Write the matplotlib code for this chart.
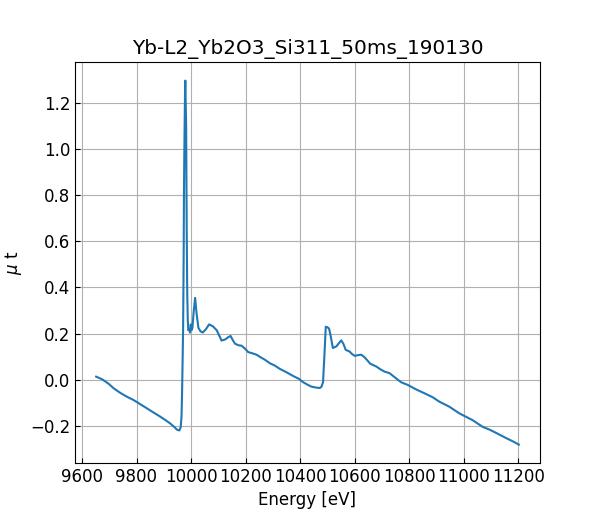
import matplotlib
matplotlib.use("Agg")
import matplotlib.pyplot as plt

# energy [eV] and absorption (mu t)
energy = [
    9652, 9675, 9698, 9716, 9735, 9753, 9770, 9789, 9812, 9838,
    9862, 9887, 9905, 9923, 9938, 9948, 9957, 9962, 9965, 9967,
    9969, 9971, 9973, 9974, 9976, 9978, 9979, 9980, 9982, 9984,
    9986, 9988, 9990, 9993, 9996, 9999, 10002, 10005, 10010, 10015,
    10020, 10027, 10035, 10043, 10055, 10066, 10080, 10094, 10104, 10112,
    10125, 10138, 10145, 10153, 10161, 10173, 10185, 10198, 10210, 10225,
    10240, 10255, 10271, 10289, 10307, 10325, 10350, 10374, 10395, 10411,
    10426, 10441, 10457, 10472, 10478, 10484, 10490, 10494, 10500, 10506,
    10512, 10520, 10533, 10543, 10551, 10559, 10567, 10581, 10590, 10600,
    10612, 10624, 10636, 10646, 10657, 10668, 10679, 10694, 10709, 10728,
    10746, 10770, 10795, 10825, 10856, 10886, 10910, 10947, 10984, 11032,
    11069, 11094, 11118, 11154, 11180, 11202,
]
mu_t = [
    0.014, 0.002, -0.017, -0.036, -0.052, -0.065, -0.076, -0.087, -0.104, -0.123,
    -0.141, -0.159, -0.173, -0.188, -0.203, -0.215, -0.219, -0.205, -0.160, -0.060,
    0.080, 0.230, 0.550, 0.810, 1.050, 1.250, 1.295, 1.220, 1.100, 0.670,
    0.377, 0.260, 0.215, 0.220, 0.205, 0.240, 0.215, 0.225, 0.300, 0.355,
    0.290, 0.225, 0.210, 0.205, 0.220, 0.240, 0.232, 0.215, 0.190, 0.170,
    0.175, 0.186, 0.190, 0.172, 0.157, 0.150, 0.148, 0.135, 0.120, 0.115,
    0.109, 0.098, 0.087, 0.072, 0.062, 0.048, 0.033, 0.017, 0.005, -0.010,
    -0.020, -0.029, -0.033, -0.035, -0.030, -0.010, 0.130, 0.230, 0.228, 0.222,
    0.190, 0.138, 0.145, 0.160, 0.171, 0.155, 0.130, 0.123, 0.112, 0.104,
    0.107, 0.109, 0.098, 0.085, 0.070, 0.064, 0.058, 0.046, 0.036, 0.029,
    0.012, -0.010, -0.022, -0.041, -0.058, -0.075, -0.094, -0.116, -0.145, -0.174,
    -0.203, -0.215, -0.229, -0.251, -0.266, -0.280,
]

plt.rcParams["font.size"] = 12

fig, ax = plt.subplots(figsize=(6, 5.2), dpi=100)
ax.plot(energy, mu_t, color="C0", lw=1.5)
ax.set_title("Yb-L2_Yb2O3_Si311_50ms_190130")
ax.set_xlabel("Energy [eV]")
ax.set_ylabel(r"$\mu$ t")
ax.set_xticks(range(9600, 11201, 200))
ax.tick_params(direction="in")
ax.grid(True)

fig.savefig("out.png")
